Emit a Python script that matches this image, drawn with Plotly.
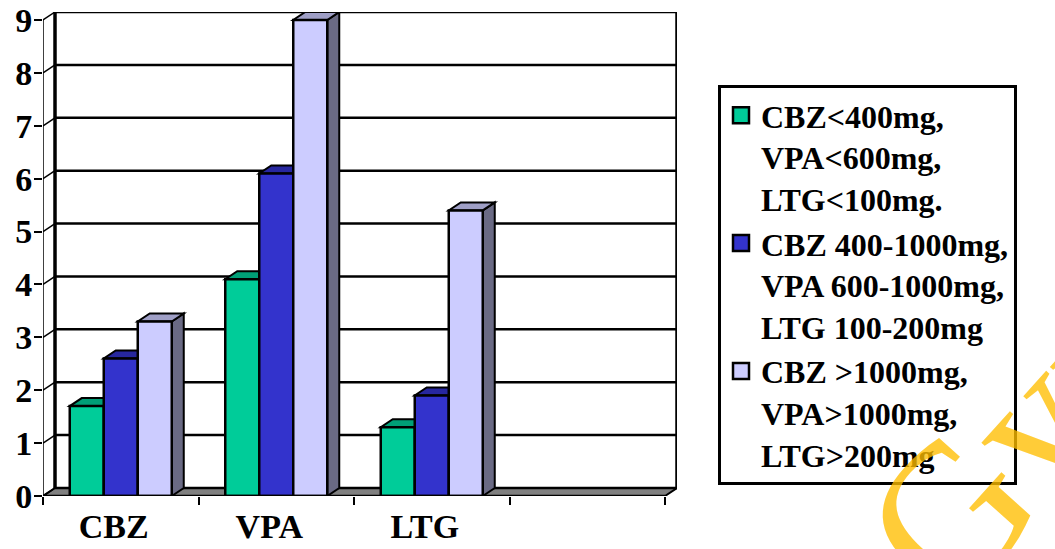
import plotly.graph_objects as go

# ---- data -------------------------------------------------------------
categories = ["CBZ", "VPA", "LTG"]
slot_count = 4                      # the fourth slot on the axis stays empty
dose_low = [1.7, 4.1, 1.3]
dose_mid = [2.6, 6.1, 1.9]
dose_high = [3.3, 9.0, 5.4]
series_values = [dose_low, dose_mid, dose_high]
series_labels = [
    ["CBZ<400mg,", "VPA<600mg,", "LTG<100mg."],
    ["CBZ 400-1000mg,", "VPA 600-1000mg,", "LTG 100-200mg"],
    ["CBZ >1000mg,", "VPA>1000mg,", "LTG>200mg"],
]
y_ticks = list(range(0, 10))

# ---- styling ----------------------------------------------------------
front_colors = ["#00CC99", "#3333CC", "#CCCCFF"]
FONT = "Liberation Serif, Times New Roman, serif"

W, H = 1055, 549
ML, MT, MR, MB = 43, 12, 378, 53
DEPTH_X_PX, DEPTH_Y_PX = 12, 8
plot_w = W - ML - MR
plot_h = H - MT - MB
Y_MAX = 9
px_per_x = (plot_w - DEPTH_X_PX) / slot_count
px_per_y = (plot_h - DEPTH_Y_PX) / Y_MAX
DX = DEPTH_X_PX / px_per_x
DY = DEPTH_Y_PX / px_per_y

BARGAP = 0.344
BW = (1 - BARGAP) / len(series_values)


def shade(hex_color, f):
    h = hex_color.lstrip("#")
    r, g, b = (int(h[i:i + 2], 16) for i in (0, 2, 4))
    return "#%02X%02X%02X" % (int(r * f), int(g * f), int(b * f))


def esc(s):
    return s.replace("<", "&lt;").replace(">", "&gt;")


def poly(points):
    return "M " + " L ".join("%f,%f" % p for p in points) + " Z"


x_lo = -0.5
x_hi = slot_count - 0.5
shapes = []

# floor
shapes.append(dict(type="path", xref="x", yref="y", layer="between",
                   path=poly([(x_lo, 0), (x_hi, 0), (x_hi + DX, DY), (x_lo + DX, DY)]),
                   fillcolor="#808080", line=dict(color="black", width=2)))
# back wall grid lines
for k in y_ticks:
    shapes.append(dict(type="line", xref="x", yref="y", layer="between",
                       x0=x_lo + DX, x1=x_hi + DX, y0=k + DY, y1=k + DY,
                       line=dict(color="black", width=2.5)))
# back wall side edges
for xe in (x_lo + DX, x_hi + DX):
    shapes.append(dict(type="line", xref="x", yref="y", layer="between",
                       x0=xe, x1=xe, y0=DY, y1=Y_MAX + DY,
                       line=dict(color="black", width=3.5)))
# left side wall connectors
for k in y_ticks:
    shapes.append(dict(type="line", xref="x", yref="y", layer="between",
                       x0=x_lo, x1=x_lo + DX, y0=k, y1=k + DY,
                       line=dict(color="black", width=1.5)))

# top and side faces of every bar (fronts are the Bar traces)
for i, vals in enumerate(series_values):
    top_c = shade(front_colors[i], 0.78)
    side_c = shade(front_colors[i], 0.52)
    for j, v in enumerate(vals):
        x0 = j - 1.5 * BW + i * BW
        x1 = x0 + BW
        shapes.append(dict(type="path", xref="x", yref="y", layer="between",
                           path=poly([(x1, 0), (x1 + DX, DY), (x1 + DX, v + DY), (x1, v)]),
                           fillcolor=side_c, line=dict(color="black", width=2)))
        shapes.append(dict(type="path", xref="x", yref="y", layer="between",
                           path=poly([(x0, v), (x1, v), (x1 + DX, v + DY), (x0 + DX, v + DY)]),
                           fillcolor=top_c, line=dict(color="black", width=2)))

# front axis lines
shapes.append(dict(type="line", xref="x", yref="y", layer="above",
                   x0=x_lo, x1=x_lo, y0=0, y1=Y_MAX, line=dict(color="black", width=1.5)))
shapes.append(dict(type="line", xref="x", yref="y", layer="above",
                   x0=x_lo, x1=x_hi, y0=0, y1=0, line=dict(color="black", width=2.5)))

fig = go.Figure()
for i, vals in enumerate(series_values):
    fig.add_trace(go.Bar(
        x=list(range(len(categories))), y=vals,
        width=BW, offset=-1.5 * BW + i * BW,
        marker=dict(color=front_colors[i], line=dict(color="black", width=2.5)),
        showlegend=False, hoverinfo="skip",
    ))
for i, lines in enumerate(series_labels):
    fig.add_trace(go.Scatter(
        x=[None], y=[None], mode="markers",
        name="<br>".join(esc(s) for s in lines),
        marker=dict(symbol="square", size=16, color=front_colors[i],
                    line=dict(color="black", width=2.5)),
    ))

fig.update_layout(
    width=W, height=H,
    margin=dict(l=ML, r=MR, t=MT, b=MB, autoexpand=False),
    paper_bgcolor="white", plot_bgcolor="white",
    barmode="overlay",
    shapes=shapes,
    showlegend=True,
    legend=dict(
        x=(718 - ML) / plot_w, y=(H - MB - 85) / plot_h,
        xanchor="left", yanchor="top", valign="top",
        bgcolor="white", bordercolor="black", borderwidth=3,
        font=dict(family=FONT, size=32, color="black", weight="bold"),
        itemwidth=30,
    ),
    xaxis=dict(
        range=[x_lo, x_hi + DX], showgrid=False, zeroline=False, showline=False,
        tickmode="array", tickvals=list(range(len(categories))), ticktext=categories,
        ticks="", ticklabelstandoff=7, ticklabelshift=-7,
        tickfont=dict(family=FONT, size=34, color="black", weight="bold"),
        minor=dict(tickmode="array", tickvals=[x_lo + k for k in range(slot_count + 1)],
                   ticks="outside", ticklen=8, tickwidth=2, tickcolor="black"),
        fixedrange=True,
    ),
    yaxis=dict(
        range=[0, Y_MAX + DY], showgrid=False, zeroline=False, showline=False,
        tickmode="array", tickvals=y_ticks,
        ticks="outside", ticklen=8, tickwidth=1.5, tickcolor="black",
        ticklabelstandoff=-5,
        tickfont=dict(family=FONT, size=34, color="black", weight="bold"),
        fixedrange=True,
    ),
    annotations=[dict(
        text="Gyn", xref="paper", yref="paper",
        x=(1016 - ML) / plot_w, y=(H - MB - 440) / plot_h,
        xanchor="center", yanchor="middle", textangle=-48, showarrow=False,
        font=dict(family=FONT, size=200, color="rgba(255,190,0,0.78)"),
    )],
)

fig.write_html("out.html")
